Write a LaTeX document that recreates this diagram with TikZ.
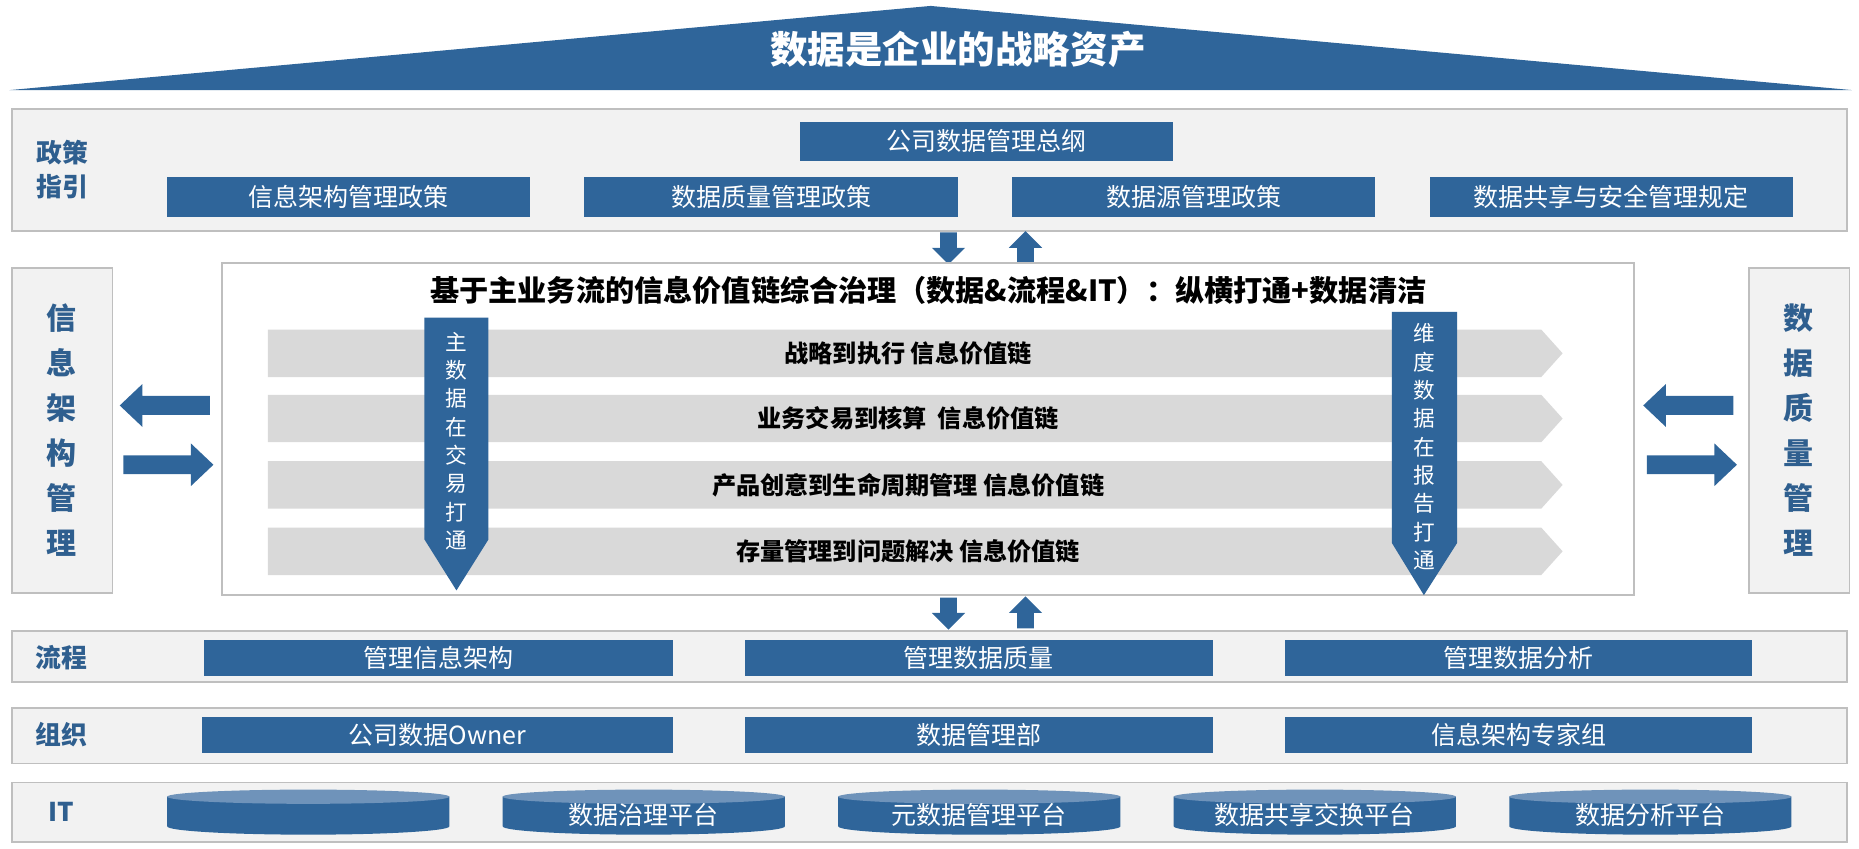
\documentclass[tikz,border=0pt]{standalone}
\usepackage{fontspec}
\setmainfont{Noto Sans CJK SC}
\usetikzlibrary{calc}
\definecolor{blueA}{HTML}{2F659A}
\definecolor{blueT}{HTML}{2F5F8F}
\definecolor{blueL}{HTML}{6F93BA}
\definecolor{bgrey}{HTML}{F2F2F2}
\definecolor{lgrey}{HTML}{BFBFBF}
\definecolor{cgrey}{HTML}{D9D9D9}
\tikzset{
  band/.style={draw=lgrey,line width=1pt,fill=bgrey},
  bluebox/.style={fill=blueA,text=white,font=\fontsize{15}{18}\selectfont},
  rowlabel/.style={text=blueT,font=\fontsize{15.5}{20}\bfseries\selectfont},
  sidelabel/.style={text=blueT,align=center,font=\fontsize{18}{27}\bfseries\selectfont},
  chevtext/.style={font=\fontsize{14.5}{17}\bfseries\selectfont},
  vtext/.style={text=white,align=center,font=\fontsize{13}{17}\selectfont},
  pics/downarrow/.style={code={\fill[blueA] (-7,-13)--(7,-13)--(7,0)--(14,0)--(0,14)--(-14,0)--(-7,0)--cycle;}},
  pics/harrow/.style={code={\fill[blueA] (-38,-8)--(19,-8)--(19,-18)--(38,0)--(19,18)--(19,8)--(-38,8)--cycle;}}
}
\begin{document}
\begin{tikzpicture}[x=0.025cm,y=-0.025cm]
  \useasboundingbox (0,0) rectangle (1568,716);
  % roof
  \fill[blueA] (8,76) -- (785,5) -- (1562,76) -- cycle;
  \node[text=white,font=\fontsize{22.5}{26}\bfseries\selectfont] (roof) at (808,42) {数据是企业的战略资产};
  % policy row
  \draw[band] (10,92) rectangle (1558,195);
  \node[rowlabel,align=center] (policy) at (53,143) {政策\\指引};
  \node[bluebox,minimum width=315*0.025cm,minimum height=33*0.025cm] (outline) at (832,119) {公司数据管理总纲};
  \foreach \xa/\xb/\t [count=\i] in {141/447/信息架构管理政策,493/808/数据质量管理政策,854/1160/数据源管理政策,1206/1512/数据共享与安全管理规定}
    \node[bluebox,minimum width={(\xb-\xa)*0.025cm},minimum height=34*0.025cm] (pol\i) at ({(\xa+\xb)/2},166) {\t};
  % side boxes
  \draw[band] (10,226) rectangle (95,500);
  \node[sidelabel] (infoarch) at (52,363) {信\\息\\架\\构\\管\\理};
  \draw[band] (1475,226) rectangle (1560,500);
  \node[sidelabel] (dataqual) at (1517,363) {数\\据\\质\\量\\管\\理};
  \pic at (139,342) [rotate=180] {harrow};
  \pic at (142,392) {harrow};
  \pic at (1424,342) [rotate=180] {harrow};
  \pic at (1427,392) {harrow};
  % vertical arrows
  \pic at (800,209) {downarrow};
  \pic at (865,209) [rotate=180] {downarrow};
  \pic at (800,517) {downarrow};
  \pic at (865,517) [rotate=180] {downarrow};
  % centre box
  \draw[draw=lgrey,line width=1pt,fill=white] (187,222) rectangle (1378,502);
  \node[font=\fontsize{17.5}{20}\bfseries\selectfont] (chain) at (783,245) {基于主业务流的信息价值链综合治理（数据\&流程\&IT）：纵横打通+数据清洁};
  \foreach \y/\t [count=\i] in {278/战略到执行 信息价值链,333/业务交易到核算~ 信息价值链,389/产品创意到生命周期管理 信息价值链,445/存量管理到问题解决 信息价值链}{
    \fill[cgrey] (226,\y) -- (1300,\y) -- (1318,\y+20) -- (1300,\y+40) -- (226,\y+40) -- cycle;
    \node[chevtext] (chev\i) at (766,\y+20) {\t};
  }
  \fill[blueA] (358,268) -- (412,268) -- (412,455) -- (385,498) -- (358,455) -- cycle;
  \node[vtext] (master) at (385,372) {主\\数\\据\\在\\交\\易\\打\\通};
  \fill[blueA] (1174,263) -- (1229,263) -- (1229,458) -- (1201,502) -- (1174,458) -- cycle;
  \node[vtext] (dims) at (1201,377) {维\\度\\数\\据\\在\\报\\告\\打\\通};
  % process row
  \draw[band] (10,532) rectangle (1558,575);
  \node[rowlabel] (proc) at (52,555) {流程};
  \foreach \xa/\xb/\t [count=\i] in {172/568/管理信息架构,628/1023/管理数据质量,1084/1478/管理数据分析}
    \node[bluebox,minimum width={(\xb-\xa)*0.025cm},minimum height=31*0.025cm] (proc\i) at ({(\xa+\xb)/2},555) {\t};
  % organisation row
  \draw[band] (10,597) rectangle (1558,644);
  \node[rowlabel] (org) at (52,620) {组织};
  \foreach \xa/\xb/\t [count=\i] in {170/568/公司数据Owner,628/1023/数据管理部,1084/1478/信息架构专家组}
    \node[bluebox,minimum width={(\xb-\xa)*0.025cm},minimum height=31*0.025cm] (org\i) at ({(\xa+\xb)/2},620) {\t};
  % IT row
  \draw[band] (10,660) rectangle (1558,710);
  \node[rowlabel] (it) at (52,685) {IT};
  \foreach \xa/\t [count=\i] in {141/{},424/数据治理平台,707/元数据管理平台,990/数据共享交换平台,1273/数据分析平台}{
    \fill[blueA] (\xa,672) -- (\xa,697) arc[start angle=180,end angle=360,x radius=119,y radius=-7] -- (\xa+238,672) -- cycle;
    \fill[blueL] (\xa+119,672) ellipse[x radius=119,y radius=6];
    \node[bluebox,fill=none] (it\i) at (\xa+119,687) {\t};
  }
\end{tikzpicture}
\end{document}
